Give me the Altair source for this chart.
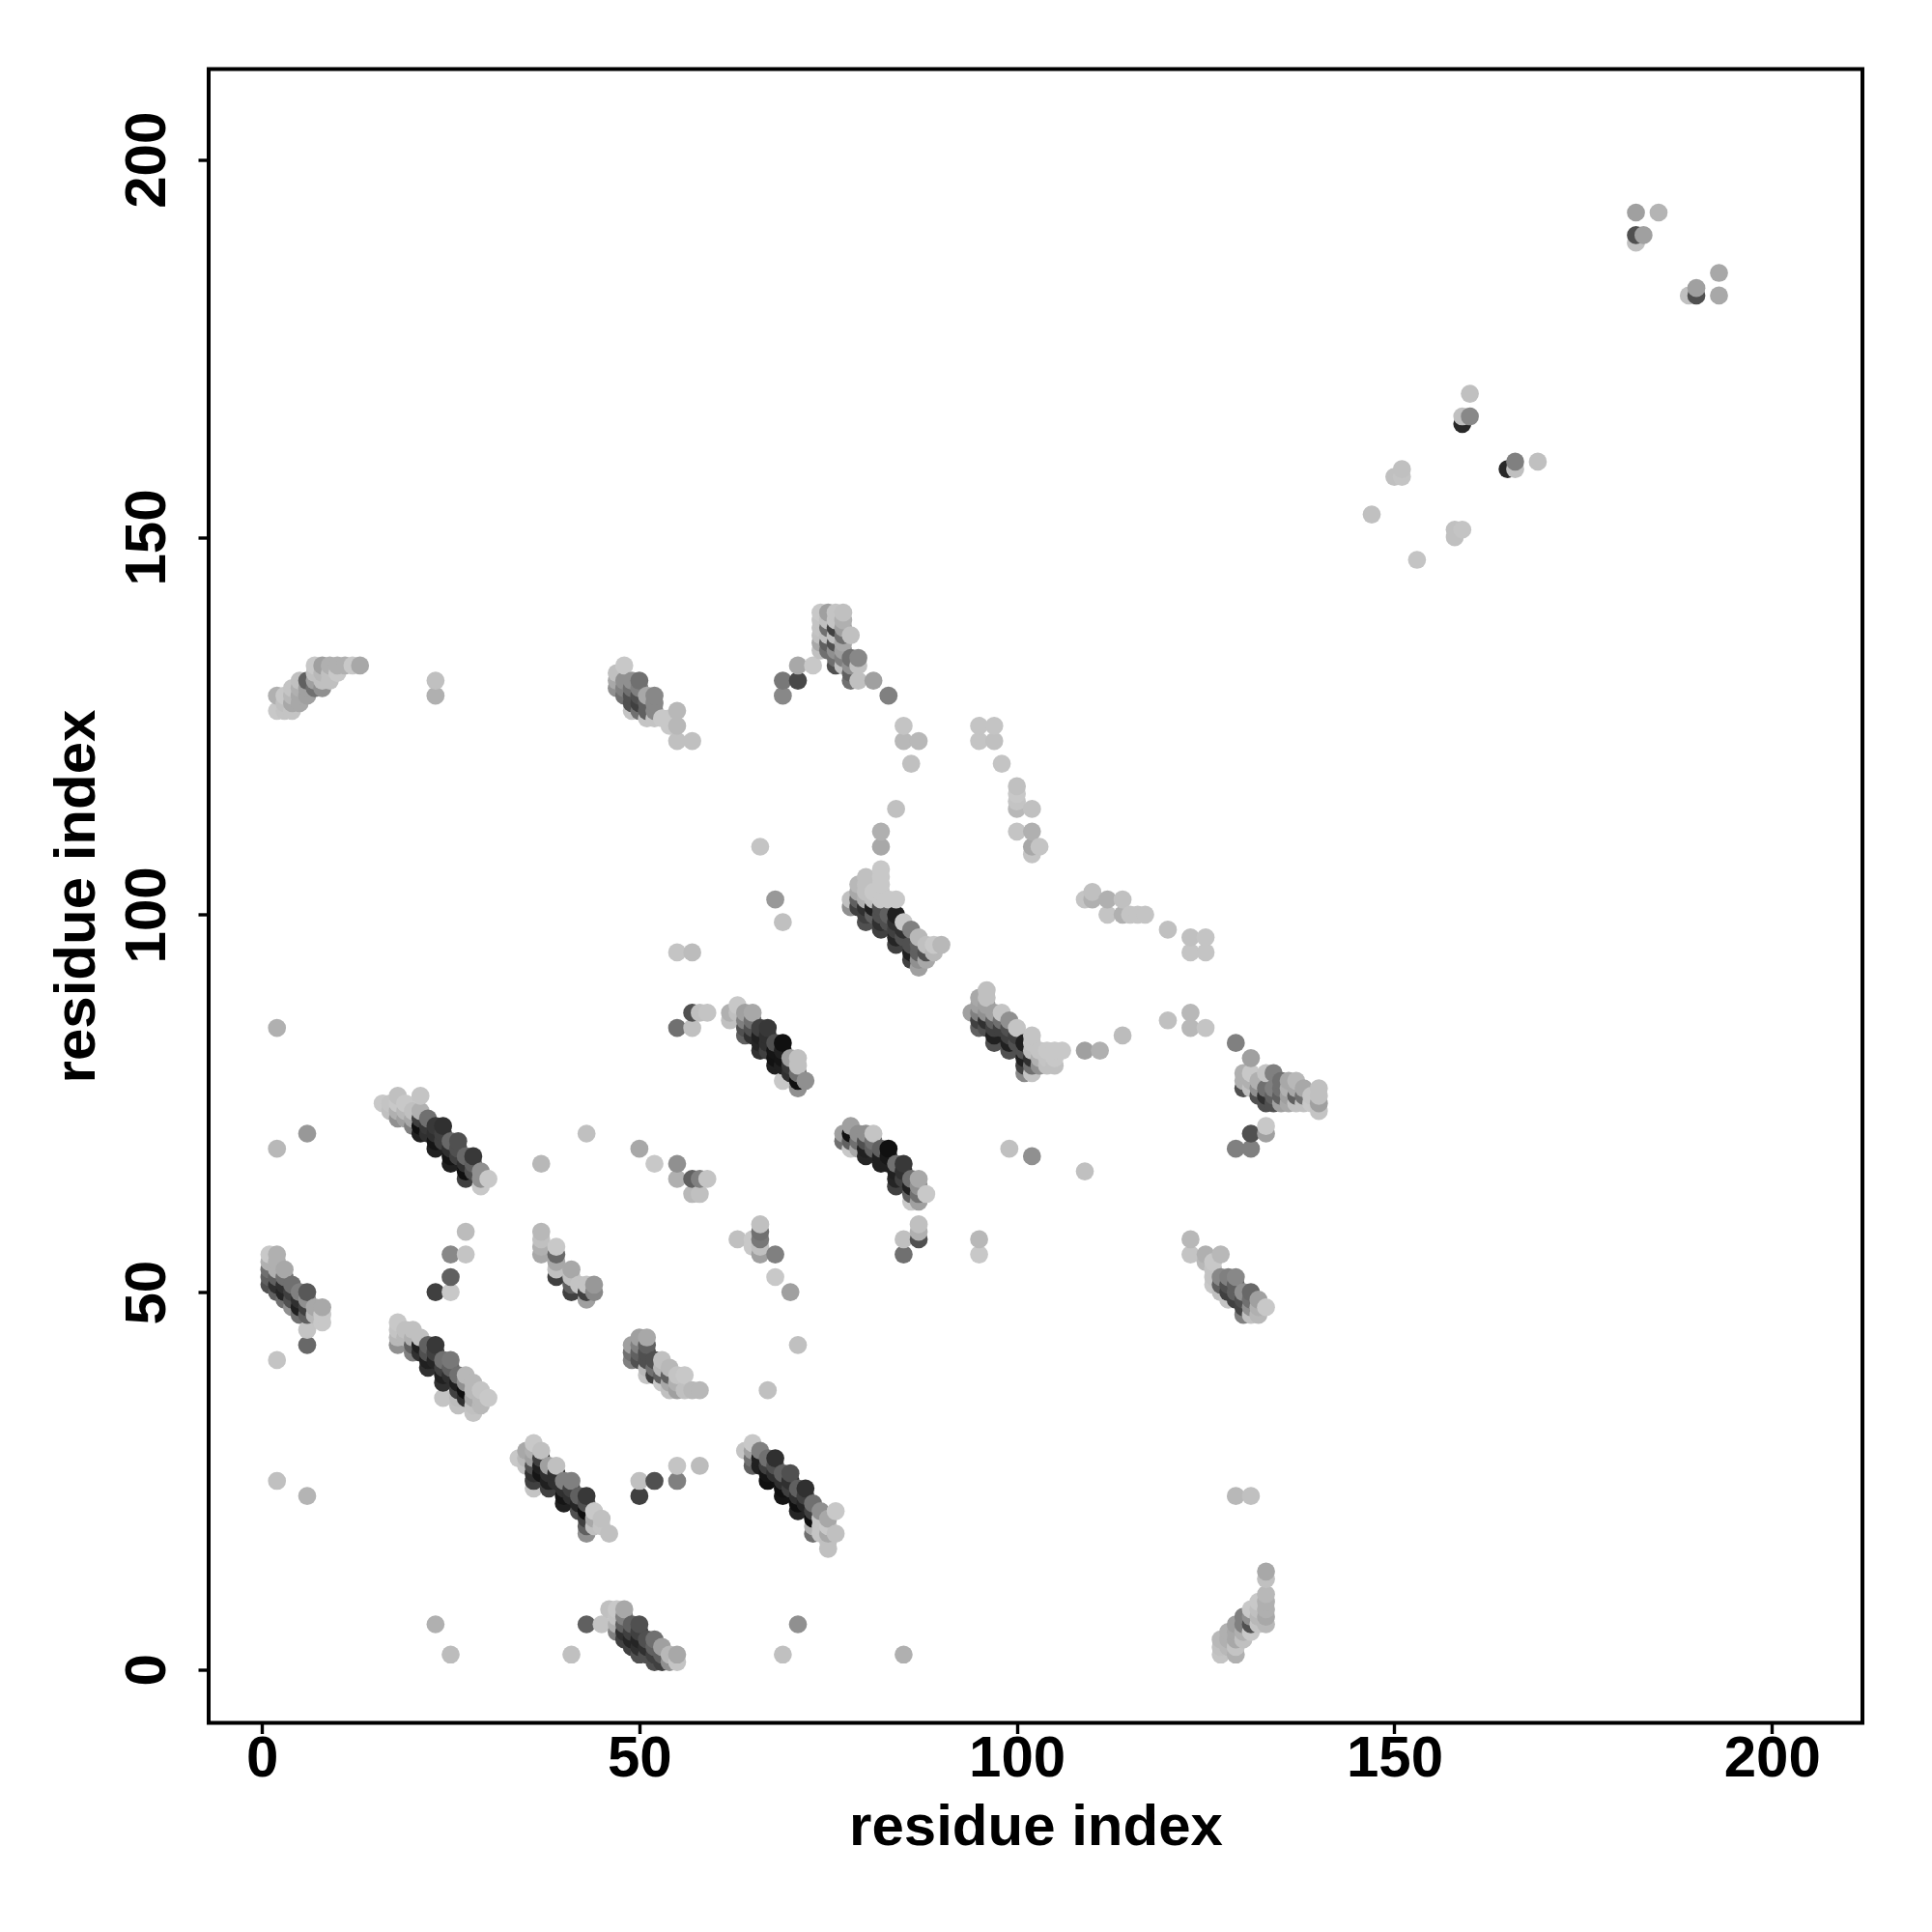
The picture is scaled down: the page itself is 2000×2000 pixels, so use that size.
import altair as alt
import pandas as pd

# residue x -> {residue y: gray level}
top_right = {147:{153:0xC0},150:{158:0xC0},151:{158:0xC4,159:0xC0},153:{147:0xC4},158:{150:0xC0,151:0xC0},159:{151:0xC4,165:0x28,166:0xC0},160:{166:0x88,169:0xC0},165:{159:0x28},166:{159:0xC0,160:0x80},169:{160:0xC0},
             182:{189:0xC0,190:0x50,193:0xA0},183:{190:0xA0},185:{193:0xB4},189:{182:0xC0},190:{182:0x50,183:0xA0},193:{182:0xA8,185:0xA8}}
isolated = {2:{25:0xC0,41:0xC4,69:0xB8,85:0xB0},6:{23:0xB4,71:0x98},23:{6:0xB0,50:0x40,129:0xB0,131:0xC0},25:{2:0xBC,50:0xC8,52:0x60,55:0x88},27:{55:0xC4,58:0xBC},
            37:{67:0xB8},41:{2:0xC0},43:{71:0xC0},50:{23:0x40,25:0xC0,69:0xA8},52:{25:0x50,67:0xC8},55:{25:0x80,27:0xC4,67:0x90,65:0xB0,85:0x70,95:0xC4},57:{63:0xB8,65:0x60,85:0xC0,87:0x50,95:0xBC},
            58:{27:0xBC,63:0xC0,65:0x80,87:0xC0},59:{65:0xC4,87:0xC4},63:{57:0xC0},65:{56:0xC8,57:0xC8},66:{55:0xA0,56:0xC0,57:0x78,58:0x70,59:0xC0,109:0xC4},67:{37:0xC0},68:{52:0xC8,55:0x80,102:0x98},69:{2:0xC0,99:0xC0,129:0x88,131:0x78},
            70:{50:0xA0},71:{6:0x90,43:0xC0,131:0x48,133:0xA8},73:{133:0xC8},81:{131:0xA0},82:{109:0xA8,111:0xB0},83:{129:0x80},84:{114:0xC0},85:{2:0xB0,55:0x70,57:0xC0,123:0xB8,125:0xC4},86:{120:0xC0},87:{57:0x50,58:0xB0,59:0xC0,123:0xB8},
            95:{55:0xC8,57:0xB8,123:0xC4,125:0xC4},97:{123:0xC0,125:0xC4},98:{120:0xC4},99:{69:0xC0},100:{111:0xC4,114:0xB8,115:0xC4,116:0xC8,117:0xC0},102:{68:0x90,108:0xC4,109:0xA8,111:0xB0,114:0xC0},103:{109:0xC4},
            109:{66:0xC0,82:0xA0,102:0xC4},110:{102:0xB0,103:0xC0},111:{82:0xB0},112:{100:0xC4,102:0xB0},114:{84:0xBC,100:0xB0,102:0xC0},115:{100:0xC4},116:{100:0xC4},117:{100:0xC4},120:{86:0xC0,98:0xC0},
            123:{85:0xB8,87:0xB8,95:0xC4,97:0xC0},125:{85:0xC4,95:0xC4,97:0xC4},129:{23:0xB8,69:0x80,83:0x80},131:{23:0xC0,69:0x80,71:0x50,81:0xA0},133:{71:0xA0,72:0xC8}}
stripe_a = {1:{51:0x50,52:0x60,53:0x70,54:0xB0,55:0xC8},2:{50:0x60,51:0x30,52:0x60,53:0xB0,54:0xB0,55:0xB0},3:{49:0x70,50:0x25,51:0x30,52:0x70,53:0xA8},4:{48:0x90,49:0x50,50:0x40,51:0x70},
            5:{47:0x70,48:0x20,49:0x30,50:0x80},6:{43:0x68,45:0xC4,47:0x60,48:0x40,49:0x90,50:0x58},7:{47:0xB8,48:0xA8},8:{46:0xC8,47:0xC8,48:0xA8}}
stripe_b = {18:{43:0x90,44:0xB8,45:0xC4,46:0xC8},19:{44:0xB8,45:0xC0},20:{42:0x80,43:0x60,44:0xB0,45:0xC0},21:{42:0x30,43:0x20,44:0xC0},22:{40:0x30,41:0x20,42:0x50,43:0x60},23:{41:0x25,42:0x40,43:0x38},
            24:{36:0xC4,38:0x30,39:0x20,40:0x40,41:0x70},25:{39:0x30,40:0x60,41:0x78},26:{35:0xC0,36:0xBC,37:0x40,38:0x20,39:0x70},27:{36:0x30,37:0x10,38:0x90,39:0xB8},28:{34:0xC4,35:0xC0,36:0xA8,37:0xB8,38:0xB8},29:{35:0xB8,36:0xB8,37:0xC4},30:{36:0xC8}}
stripe_c = {34:{28:0xC8},35:{27:0xC4,28:0xB8,29:0xA8},36:{24:0xC4,25:0x40,26:0x30,27:0x50,28:0xA0,29:0xB0,30:0xC8},37:{26:0x15,27:0x20,28:0x40,29:0xC0},38:{24:0x40,25:0x20,26:0x30,27:0xA0},39:{25:0x30,26:0x30,27:0xC0},
            40:{22:0x20,23:0x15,24:0x30,25:0x80},41:{23:0x30,24:0x40,25:0x80},42:{21:0x50,22:0x25,23:0x60},43:{18:0x90,19:0x60,20:0x40,21:0x10,22:0x50,23:0x38},44:{19:0xC0,20:0xA8,21:0xC8},45:{19:0xC4,20:0xC0},46:{18:0xC0}}
stripe_d = {43:{6:0x60},45:{6:0xC4},46:{8:0xC0},47:{5:0x80,6:0xB0,7:0xC4,8:0xC8},48:{4:0x40,5:0x30,6:0x60,7:0x80,8:0xA8},49:{3:0x40,4:0x25,5:0x40,6:0x60},50:{2:0x50,3:0x30,4:0x25,5:0x40,6:0x50},
            51:{2:0x50,3:0x30,4:0x50},52:{1:0x50,2:0x40,3:0x60,4:0x70},53:{1:0x40,2:0x60,3:0xA0},54:{1:0x90,2:0xB8},55:{1:0xC4,2:0xA8}}
stripe_e = {37:{55:0xA8,56:0xB0,57:0xC0,58:0xB8},39:{52:0x40,53:0xC0,54:0xA8,55:0x68,56:0xC8},41:{50:0x40,51:0x60,52:0xC0,53:0xA8},42:{51:0xC4},43:{49:0xA0,50:0x40,51:0xC4},44:{50:0x88,51:0x98}}
stripe_f = {47:{130:0x90,131:0xA8,132:0xC0},48:{129:0x70,130:0x80,131:0x90,133:0xC8},49:{127:0xC4,128:0x50,129:0x50,130:0x70,131:0x90},50:{127:0x70,128:0x40,129:0x50,130:0x80,131:0x70},
            51:{126:0xC4,127:0x60,128:0x60,129:0xA8},52:{126:0xC4,127:0x88,128:0x88,129:0x88},53:{126:0xC8},54:{125:0xC8,126:0xC8},55:{123:0xC0,125:0xB8,127:0xB8},57:{123:0xC0}}
stripe_g = {16:{75:0xC8},17:{74:0xC0,75:0xC4},18:{73:0x90,74:0xB0,75:0xC8,76:0xC0},19:{73:0xA0,74:0xB8,75:0xC8},20:{72:0x80,73:0xA8,74:0xC0},21:{71:0x20,72:0x10,73:0x40,74:0xB0,76:0xC4},22:{71:0x30,72:0x38,73:0x70},
            23:{69:0x20,70:0x15,71:0x30,72:0x38},24:{70:0x40,71:0x40,72:0x30},25:{67:0x20,68:0x15,69:0x30,70:0x68},26:{68:0x40,69:0x50,70:0x50},27:{65:0x40,66:0x10,67:0x30,68:0x68},28:{66:0x50,67:0x60,68:0x38},29:{64:0xC8,65:0x90,66:0x90},30:{65:0xC8}}
stripe_h = {74:{135:0xC0,136:0xA8,137:0xC0,138:0xC4,139:0xC4,140:0xC8},75:{135:0x70,136:0x60,137:0xC0,138:0x70,139:0xC0,140:0xA0},76:{133:0x50,134:0x70,135:0x90,136:0x50,137:0xC0,138:0x40,139:0xC4,140:0xC4},
            77:{133:0xC0,134:0x80,135:0xA0,136:0xA8,137:0x70,138:0xA0,139:0xB0,140:0xC0},78:{131:0x70,132:0x60,133:0x90,134:0x70,137:0xC0},79:{131:0xC0,133:0xC0,134:0x88}}
stripe_i = {78:{101:0x90,102:0xC0},79:{101:0x40,102:0x60,103:0xA8,104:0xB8},80:{99:0x50,100:0x40,101:0x30,102:0xB0,103:0xC0,104:0xC0,105:0xC0},81:{100:0x60,101:0x20,102:0xC0,103:0xC8},
            82:{98:0x40,99:0x30,100:0x50,101:0x50,102:0xC8,103:0xC8,104:0xC8,105:0xC8,106:0xC8},83:{99:0x50,100:0x60,102:0xC8},84:{96:0x40,97:0x25,98:0x40,99:0x30,100:0x20,102:0xC8},85:{97:0x50,98:0x30,99:0xC8},
            86:{94:0x40,95:0x20,96:0x50,98:0x80},87:{93:0xA0,94:0x90,95:0x60,96:0x60,97:0xB8},88:{94:0xA8,95:0x50,96:0xC0},89:{95:0xB8,96:0xC8},90:{96:0xB8}}
stripe_j = {94:{87:0xA0},95:{85:0x60,86:0x40,87:0x80,88:0xA0,89:0xA8},96:{85:0x50,86:0x30,87:0x90,88:0xA0,89:0xC0,90:0xC0},97:{83:0x50,84:0x20,85:0x40,86:0x60,87:0xA0},98:{85:0x40,86:0x70,87:0xC4},
            99:{82:0x50,83:0x20,84:0x40,85:0x50,86:0x90},100:{83:0x50,84:0x40,85:0xC4},101:{79:0x88,80:0x40,81:0x20,82:0x50,83:0x20},102:{79:0xC4,80:0x70,81:0x30,82:0xC0,83:0xC4,84:0xC4},103:{80:0x90,81:0xB0,82:0xC4},
            104:{80:0xC0,81:0xC4,82:0xC8},105:{80:0xC0,81:0xC8,82:0xC8},106:{82:0xC8}}
stripe_k = {130:{77:0x50,78:0xB0,79:0xB0},131:{77:0xC0,78:0xB0,79:0xC8},132:{76:0x50,77:0x90,78:0xB0},133:{75:0x50,76:0x30,77:0x70,79:0xC4},134:{75:0x50,76:0x60,77:0x80,79:0x80},135:{75:0xA0,76:0x60,77:0x70,78:0x70},
            136:{75:0xA8,76:0xA0,77:0xB0,78:0xA8},137:{75:0xC0,76:0x60,77:0xA8,78:0xB8},138:{75:0xC0,76:0x70,77:0xA8},139:{75:0xC8,76:0xC4},140:{74:0xC4,75:0xA0,76:0xC0,77:0xC0}}
stripe_l = {77:{70:0x70,71:0xA0},78:{69:0xC8,70:0x60,71:0x10,72:0xA0},79:{69:0xA8,70:0x70,71:0x90},80:{68:0x25,69:0x20,70:0x50,71:0x90},81:{69:0x60,70:0x70,71:0xC4},82:{67:0x20,68:0x20,69:0x60},83:{67:0x20,68:0x18,69:0x10},
            84:{64:0x40,65:0x25,66:0x20,67:0x70},85:{65:0x40,66:0x30,67:0x38},86:{62:0xC8,63:0x60,64:0x20,65:0x70},87:{62:0xA0,63:0x70,64:0x90,65:0xA8},88:{63:0xC8}}
stripe_m = {62:{86:0xC0,87:0xB0},63:{87:0xC0,88:0xC8},64:{84:0x60,85:0x50,86:0x80,87:0xA0},65:{84:0x30,85:0x50,86:0x70,87:0xA8},66:{82:0x30,83:0x25,84:0x20,85:0x40},67:{82:0x40,83:0x30,84:0x30,85:0x38},68:{80:0x20,81:0x12,82:0x15,83:0x50},
            69:{78:0xC8,80:0x20,81:0x15,82:0x20,83:0x10},70:{79:0x30,80:0x38,81:0xA0},71:{77:0x90,78:0x10,79:0x70,80:0xC0,81:0xC0},72:{78:0x90}}
stripe_n = {64:{29:0xC4},65:{27:0x60,28:0x70,29:0xA0,30:0xC8},66:{27:0x20,28:0x20,29:0x80},67:{25:0x10,26:0x15,27:0x40,28:0x70},68:{26:0x30,27:0x50,28:0x30},69:{23:0x15,24:0x10,25:0x30,26:0x60},70:{24:0x40,25:0x30,26:0x50},
            71:{21:0x25,22:0x10,23:0x30,24:0x60},72:{22:0x25,23:0x40,24:0x30},73:{18:0x70,19:0xB0,20:0x10,21:0x40,22:0x70},74:{18:0xC4,19:0xC4,20:0xC4,21:0x90},75:{16:0xC0,17:0xC0,18:0xA8,19:0xC8,20:0xA8},76:{18:0xC0,21:0xC8}}
stripe_p = {49:{41:0x80,42:0x70,43:0xA0},50:{41:0x50,42:0x60,43:0x80,44:0xA0},51:{39:0xC4,40:0xB8,41:0x50,42:0x50,43:0x60,44:0xA8},52:{39:0x40,40:0x70,41:0x50},53:{38:0xC8,39:0x60,40:0xB8,41:0xC0},54:{37:0xC0,38:0xA8,39:0x60,40:0xB8},
            55:{37:0xA0,38:0xB0,39:0xC4},56:{37:0xC0,39:0xC8},57:{37:0xB8},58:{37:0xB8}}
stripe_q = {127:{2:0xC4,3:0xC0,4:0xB8},128:{3:0xB8,4:0xB0,5:0xB0},129:{2:0xB0,3:0xC4,4:0xA8,5:0xA8,6:0xA0},130:{4:0xC0,5:0xB0,6:0x80,7:0x80},131:{5:0xC8,6:0x50,7:0x90,8:0xC8},132:{6:0xC4,7:0xB8,8:0xC0,9:0xC8},133:{6:0xB8,7:0xA8,8:0xB0,9:0xB0,10:0xB8,12:0xC0,13:0xA8}}
stripe_r = {123:{55:0xC4,57:0xB8},125:{54:0xB8,55:0xB0},126:{51:0xC8,52:0xC4,53:0xC4,54:0xC8},127:{50:0xC0,51:0x60,52:0x88,55:0xB8},128:{49:0xC4,50:0x40,51:0x50,52:0x80},129:{49:0x40,50:0x60,51:0x60,52:0x88},130:{47:0x80,48:0x45,49:0x50,50:0x90},
            131:{47:0xC0,48:0x90,49:0x70,50:0x68},132:{47:0xB8,48:0xB0,49:0xA0},133:{48:0xC8}}
stripe_s = {2:{127:0xC8,129:0xB0},3:{127:0xC4,128:0xC0,129:0xC8},4:{127:0xC4,128:0xA8,129:0xB8,130:0xC4},5:{128:0xA8,129:0xA8,130:0xB0,131:0xC0},6:{129:0xA0,130:0xA0,131:0x60},7:{130:0x70,131:0xA0,132:0xC0,133:0xC8},
            8:{130:0x90,131:0xC0,132:0xB8,133:0xA0},9:{131:0xC0,132:0xC0,133:0xB0},10:{132:0xC8,133:0xB0},11:{133:0xB0},12:{133:0xC8},13:{133:0xA8}}

groups = [top_right, isolated, stripe_a, stripe_b, stripe_c, stripe_d, stripe_e, stripe_f, stripe_g, stripe_h, stripe_i, stripe_j,
          stripe_k, stripe_l, stripe_m, stripe_n, stripe_p, stripe_q, stripe_r, stripe_s]
rows = []
for g in groups:
    for x, col in g.items():
        for y, v in col.items():
            rows.append({"x": x, "y": y, "shade": f"#{v:02x}{v:02x}{v:02x}"})
df = pd.DataFrame(rows).sort_values(["x", "y"], kind="stable")

font = "Liberation Sans"
x_axis = alt.Axis(values=[0, 50, 100, 150, 200], title="residue index", grid=False, domain=False, format="d",
                  tickColor="black", tickWidth=3.4, tickSize=11, labelFont=font, labelFontSize=60, labelFontWeight="bold",
                  labelColor="black", labelPadding=-3, titleFont=font, titleFontSize=60, titleFontWeight="bold",
                  titleColor="black", titlePadding=12, labelFlush=False, labelOverlap=False)
y_axis = alt.Axis(values=[0, 50, 100, 150, 200], title="residue index", grid=False, domain=False, format="d",
                  tickColor="black", tickWidth=3.4, tickSize=11, labelFont=font, labelFontSize=60, labelFontWeight="bold",
                  labelColor="black", labelAngle=270, labelPadding=22, titleFont=font, titleFontSize=60, titleFontWeight="bold",
                  titleColor="black", titlePadding=12, labelFlush=False, labelOverlap=False)

chart = alt.Chart(df).mark_circle(size=350, opacity=1).encode(
    x=alt.X("x:Q", scale=alt.Scale(domain=[-7.05, 212.0], nice=False, zero=False), axis=x_axis),
    y=alt.Y("y:Q", scale=alt.Scale(domain=[-7.05, 212.0], nice=False, zero=False), axis=y_axis),
    color=alt.Color("shade:N", scale=None),
).properties(
    width=1712, height=1712,
    padding={"left": 208, "top": 63.5, "right": 50, "bottom": 190},
    autosize="none",
    background="white",
).configure_view(stroke="black", strokeWidth=4, fill="white")

chart.save("out.html", embed_options={"renderer": "svg", "actions": False})
